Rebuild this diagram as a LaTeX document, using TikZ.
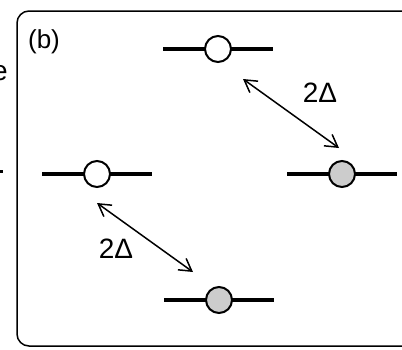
\documentclass[tikz,border=0pt]{standalone}
\usepackage{fontspec}
\setmainfont{Liberation Sans}
\usetikzlibrary{arrows.meta}
\begin{document}
\begin{tikzpicture}[x=1pt,y=-1pt,
  level/.style={line width=4.2pt},
  site/.style={circle,draw,line width=2pt,minimum size=26pt,inner sep=0pt},
  empty/.style={site,fill=white},
  filled/.style={site,fill=gray!40},
  gap/.style={line width=1.5pt,{Straight Barb[length=12pt,width=14pt,line width=1.5pt]}-{Straight Barb[length=12pt,width=14pt,line width=1.5pt]}},
  lbl/.style={font=\fontsize{28}{30}\selectfont,inner sep=0pt}]
\useasboundingbox (0,0) rectangle (402,349);
% frame (continues beyond right edge)
\draw[line width=1.5pt,rounded corners=12pt] (410,11) -- (17,11) -- (17,346) -- (410,346);
% fragments of neighbouring panel
\node[lbl,anchor=east] (frag) at (8,73) {e};
\fill (0,170) rectangle (3,173);
% panel label
\node[font=\fontsize{26}{28}\selectfont,inner sep=0pt] (b) at (44,42) {(b)};
% levels
\coordinate (tl) at (163,49); \coordinate (tr) at (273,49);
\coordinate (ll) at (42,174); \coordinate (lr) at (152,174);
\coordinate (rl) at (287,174); \coordinate (rr) at (397,174);
\coordinate (bl) at (164,300); \coordinate (br) at (274,300);
\draw[level] (tl) -- (tr);
\draw[level] (ll) -- (lr);
\draw[level] (rl) -- (rr);
\draw[level] (bl) -- (br);
\node[empty] (top) at (218,49) {};
\node[empty] (left) at (97,174) {};
\node[filled] (right) at (342,174) {};
\node[filled] (bot) at (219,300) {};
% transitions
\coordinate (a1) at (243,79); \coordinate (a2) at (339,148);
\coordinate (b1) at (97,203); \coordinate (b2) at (193,272);
\draw[gap] (a1) -- (a2);
\draw[gap] (b1) -- (b2);
\node[lbl] (d1) at (320,93) {2Δ};
\node[lbl] (d2) at (116,249) {2Δ};
\end{tikzpicture}
\end{document}
